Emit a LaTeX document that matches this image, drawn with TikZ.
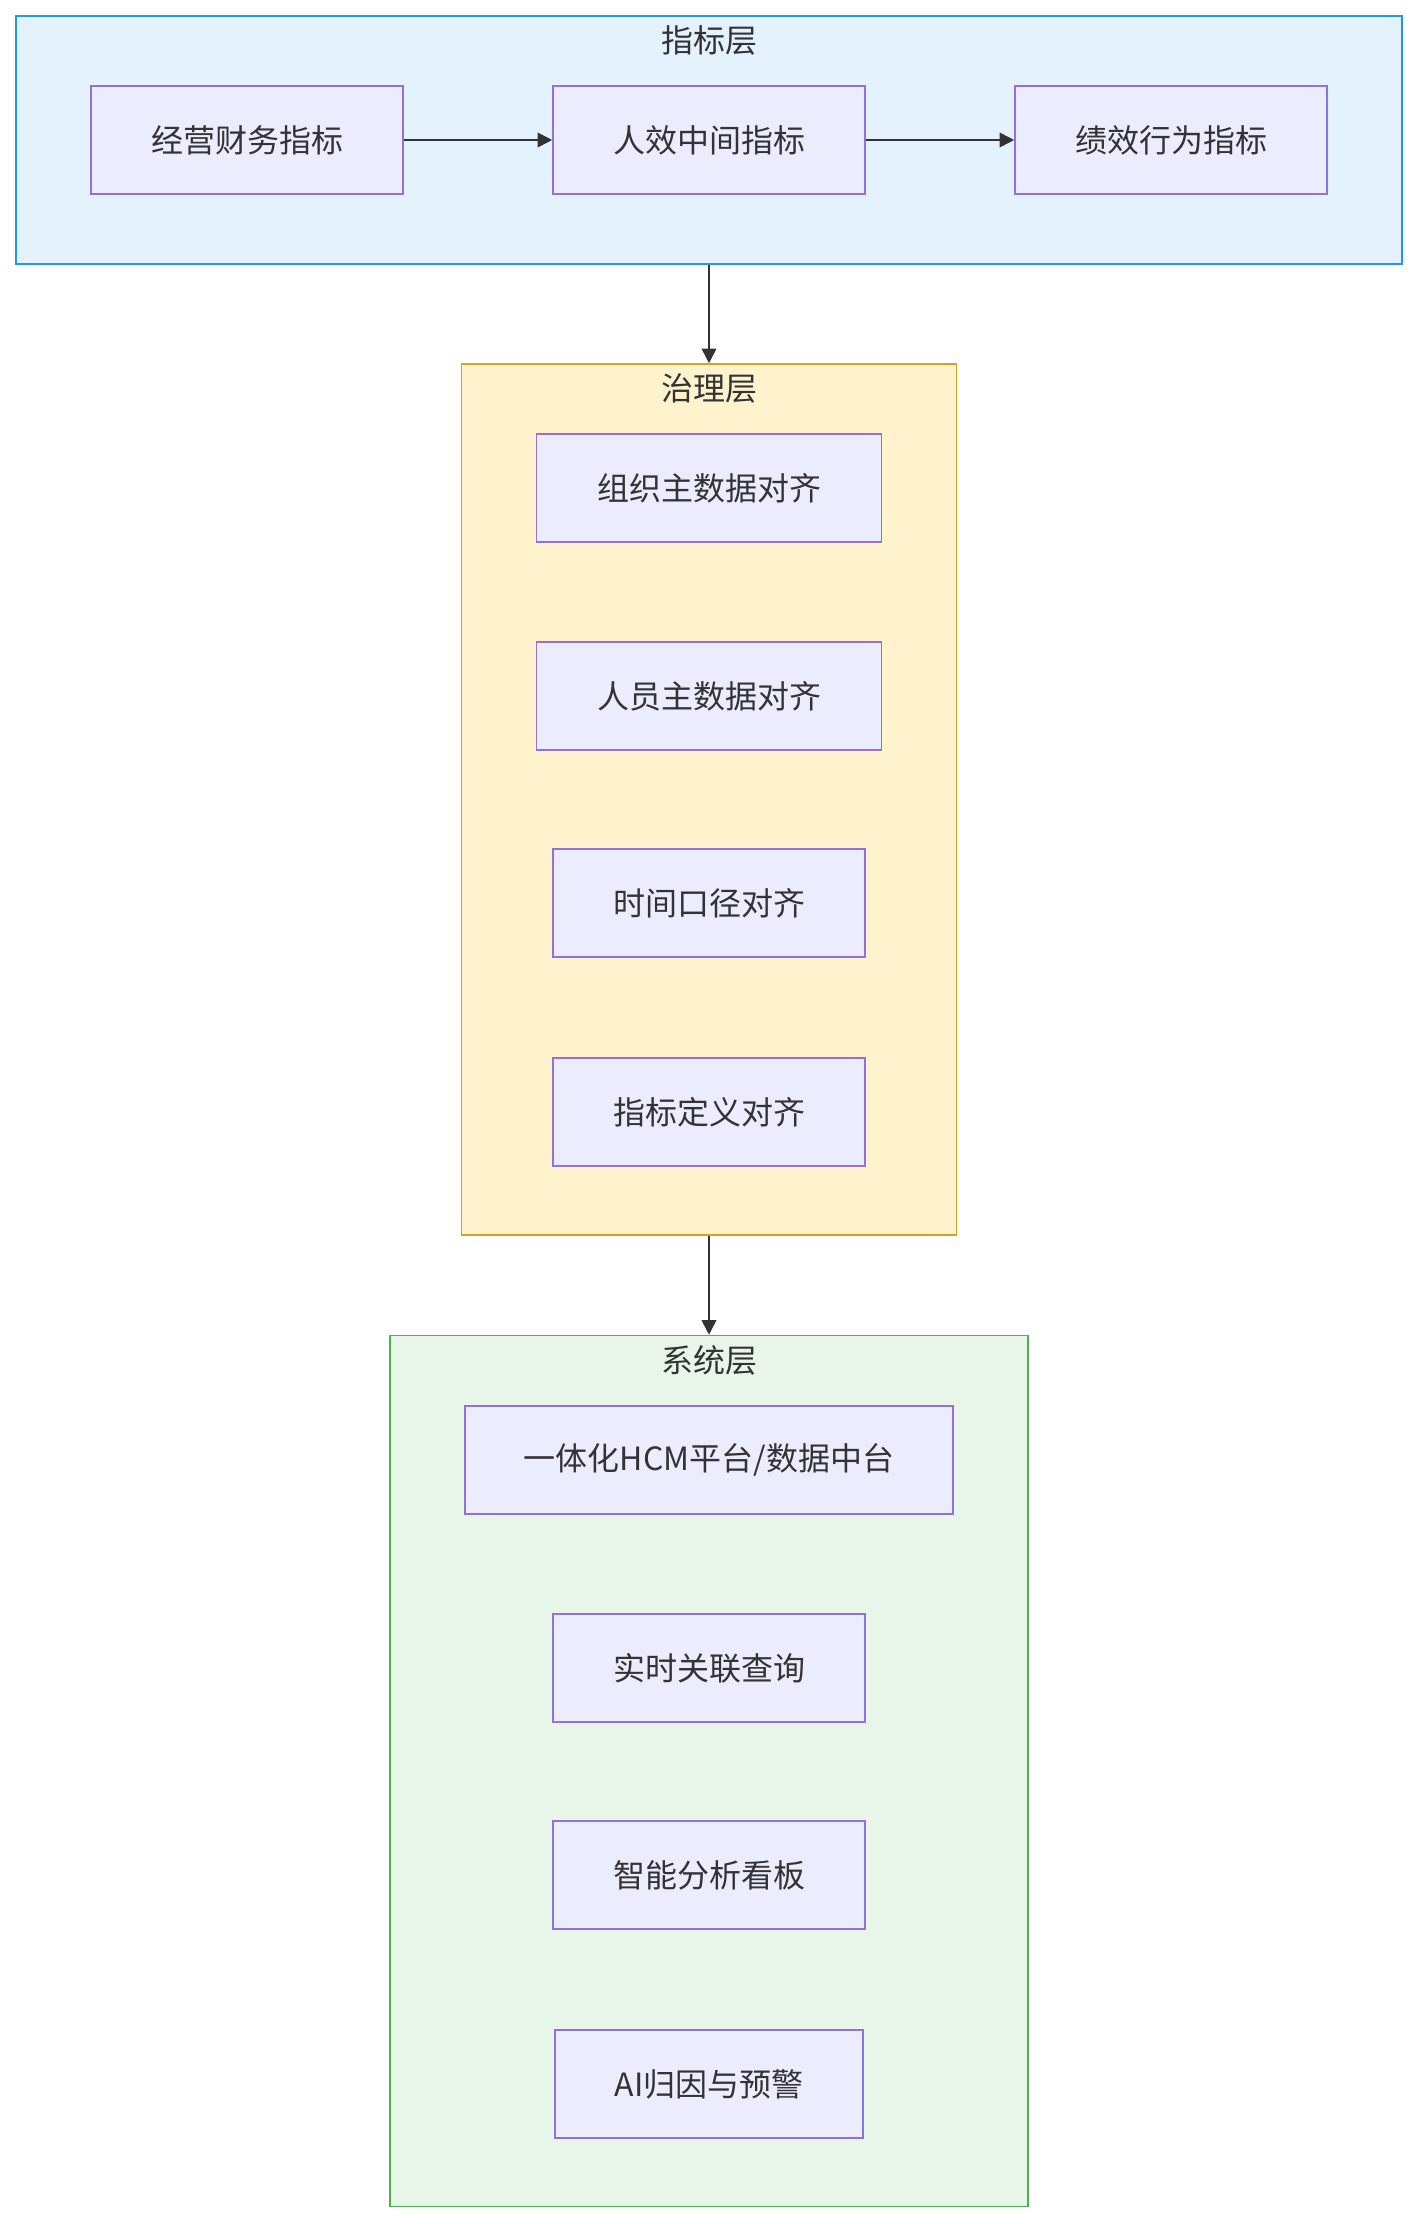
\documentclass[tikz,border=0pt]{standalone}
\usepackage{fontspec}
\setmainfont{Noto Sans CJK SC}
\usetikzlibrary{arrows.meta}
\definecolor{txt}{HTML}{333333}
\definecolor{bfill}{HTML}{E3F2FD}
\definecolor{bdraw}{HTML}{2196F3}
\definecolor{yfill}{HTML}{FFF3CD}
\definecolor{ydraw}{HTML}{D6A21E}
\definecolor{gfill}{HTML}{E8F5E9}
\definecolor{gdraw}{HTML}{4CAF50}
\definecolor{nfill}{HTML}{ECECFF}
\definecolor{ndraw}{HTML}{9370DB}
\tikzset{
  cluster/.style={draw, line width=1.2pt, inner sep=0pt, rectangle},
  titletext/.style={text=txt, font=\fontsize{24}{28}\selectfont, inner sep=0pt},
  box/.style={draw=ndraw, fill=nfill, line width=1.2pt, rectangle, inner sep=0pt,
    minimum height={108*0.75pt}, text=txt, font=\fontsize{24}{28}\selectfont},
  link/.style={draw=txt, line width=1.3pt, -{Triangle[length=11pt,width=11pt]}}
}
\begin{document}
\begin{tikzpicture}[x=0.75pt,y=-0.75pt]
\useasboundingbox (0,0) rectangle (1418,2224);
% clusters
\node[cluster, draw=bdraw, fill=bfill, minimum width={1386*0.75pt}, minimum height={248*0.75pt}] (L1) at (709,140) {};
\node[cluster, draw=ydraw, fill=yfill, minimum width={495*0.75pt}, minimum height={871*0.75pt}] (L2) at (709,799.5) {};
\node[cluster, draw=gdraw, fill=gfill, minimum width={638*0.75pt}, minimum height={871*0.75pt}] (L3) at (709,1771) {};
\node[titletext] (T1) at (709,40) {指标层};
\node[titletext] (T2) at (709,388) {治理层};
\node[titletext] (T3) at (709,1360) {系统层};
% layer 1
\node[box, minimum width={312*0.75pt}] (a1) at (247,140) {经营财务指标};
\node[box, minimum width={312*0.75pt}] (a2) at (709,140) {人效中间指标};
\node[box, minimum width={312*0.75pt}] (a3) at (1171,140) {绩效行为指标};
% layer 2
\node[box, minimum width={345*0.75pt}] (b1) at (709,488) {组织主数据对齐};
\node[box, minimum width={345*0.75pt}] (b2) at (709,696) {人员主数据对齐};
\node[box, minimum width={312*0.75pt}] (b3) at (709,903) {时间口径对齐};
\node[box, minimum width={312*0.75pt}] (b4) at (709,1112) {指标定义对齐};
% layer 3
\node[box, minimum width={488*0.75pt}] (c1) at (709,1460) {一体化HCM平台/数据中台};
\node[box, minimum width={312*0.75pt}] (c2) at (709,1668) {实时关联查询};
\node[box, minimum width={312*0.75pt}] (c3) at (709,1875) {智能分析看板};
\node[box, minimum width={308*0.75pt}] (c4) at (709,2084) {AI归因与预警};
% links
\draw[link] (a1) -- (a2);
\draw[link] (a2) -- (a3);
\draw[link] (L1.south) -- (L2.north);
\draw[link] (L2.south) -- (L3.north);
\end{tikzpicture}
\end{document}
